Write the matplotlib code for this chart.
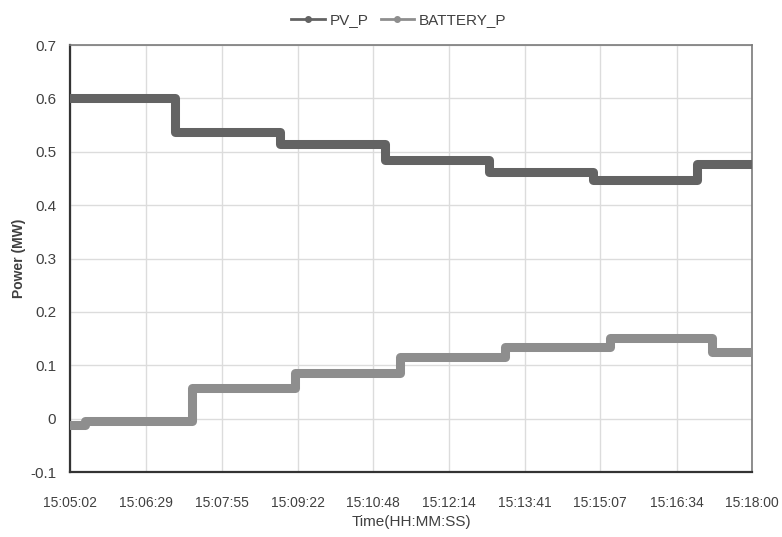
import numpy as np
import matplotlib
matplotlib.use("Agg")
import matplotlib.pyplot as plt
from matplotlib.lines import Line2D

plt.rcParams['font.family'] = ['Liberation Sans', 'DejaVu Sans']

# step change times (HH:MM:SS) and levels
pv_times = ["15:05:02", "15:07:02", "15:09:02", "15:11:01", "15:13:00",
            "15:14:59", "15:16:57", "15:18:00"]
pv_vals = [0.600, 0.538, 0.514, 0.485, 0.463, 0.448, 0.477]

bat_times = ["15:05:02", "15:05:19", "15:07:21", "15:09:19", "15:11:18",
             "15:13:18", "15:15:18", "15:17:15", "15:18:00"]
bat_vals = [-0.012, -0.004, 0.057, 0.086, 0.115, 0.135, 0.151, 0.124]

tick_labels = ["15:05:02", "15:06:29", "15:07:55", "15:09:22", "15:10:48",
               "15:12:14", "15:13:41", "15:15:07", "15:16:34", "15:18:00"]

pv_color = "#636363"
bat_color = "#8e8e8e"


def to_sec(t):
    h, m, s = map(int, t.split(":"))
    return h * 3600 + m * 60 + s


t0 = to_sec(tick_labels[0])
pv_x = np.array([to_sec(t) - t0 for t in pv_times])
bat_x = np.array([to_sec(t) - t0 for t in bat_times])
tick_x = [to_sec(t) - t0 for t in tick_labels]

fig = plt.figure(figsize=(7.82, 5.37), dpi=100)
ax = fig.add_axes([0.0895, 0.121, 0.872, 0.795])

ax.step(pv_x, pv_vals + [pv_vals[-1]], where='post', color=pv_color, lw=6.5,
        solid_capstyle='round', solid_joinstyle='round', zorder=3)
ax.step(bat_x, bat_vals + [bat_vals[-1]], where='post', color=bat_color, lw=6.5,
        solid_capstyle='round', solid_joinstyle='round', zorder=3)

ax.set_xlim(tick_x[0], tick_x[-1])
ax.set_ylim(-0.1, 0.7)
ax.set_xticks(tick_x)
ax.set_xticklabels(tick_labels)
ax.set_yticks(np.arange(-0.1, 0.71, 0.1))
ax.set_yticklabels(["-0.1", "0", "0.1", "0.2", "0.3", "0.4", "0.5", "0.6", "0.7"])
ax.tick_params(axis='y', length=0, labelsize=11, colors="#404040", pad=10)
ax.tick_params(axis='x', length=0, labelsize=10, colors="#404040", pad=17)
ax.grid(True, color="#dcdcdc", lw=1)
ax.set_axisbelow(True)

for side in ["left", "bottom"]:
    ax.spines[side].set_color("#333333")
    ax.spines[side].set_linewidth(1.6)
for side in ["top", "right"]:
    ax.spines[side].set_color("#7a7a7a")
    ax.spines[side].set_linewidth(1.2)

ax.set_ylabel("Power (MW)", fontsize=10, fontweight="bold", color="#404040", labelpad=3)
ax.set_xlabel("Time(HH:MM:SS)", fontsize=11, color="#404040", labelpad=4)

handles = [Line2D([0], [0], color=pv_color, lw=2, marker='o', markersize=4),
           Line2D([0], [0], color=bat_color, lw=2, marker='o', markersize=4)]
fig.legend(handles, ["PV_P", "BATTERY_P"], loc="center", bbox_to_anchor=(0.51, 0.962),
           ncol=2, frameon=False, fontsize=11, handlelength=2.2, columnspacing=0.8,
           handletextpad=0.3, labelcolor="#404040")

fig.savefig("out.png", dpi=100)
